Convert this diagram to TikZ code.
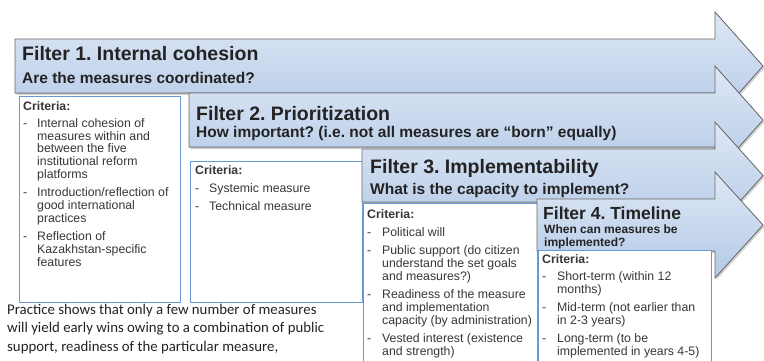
\documentclass[tikz,border=0pt]{standalone}
\usepackage{fontspec}
\setmainfont{Liberation Sans}
\newfontfamily\calibri{Carlito}
\usetikzlibrary{shadows}
\frenchspacing

\definecolor{arrowtop}{RGB}{222,232,245}
\definecolor{arrowbot}{RGB}{180,201,231}
\definecolor{arrowline}{RGB}{105,105,105}
\definecolor{boxline}{RGB}{105,152,210}
\definecolor{headtext}{RGB}{35,35,35}
\definecolor{listtext}{RGB}{55,55,55}

\begin{document}
\begin{tikzpicture}[x=1pt,y=-1pt]
    \tikzstyle{filter} = [draw=arrowline,line width=0.8pt,top color=arrowtop,bottom color=arrowbot,drop shadow={shadow xshift=1.5pt,shadow yshift=-2pt,opacity=0.35}]
    \tikzstyle{critbox} = [draw=boxline,fill=white,line width=0.7pt,anchor=north west,inner sep=0pt]
    \tikzstyle{title} = [anchor=base west,inner sep=0pt,text=headtext,font=\fontsize{19.5}{22}\selectfont\bfseries]
    \tikzstyle{question} = [anchor=base west,inner sep=0pt,text=headtext,font=\fontsize{15.5}{17}\selectfont\bfseries]
    \tikzstyle{list} = [anchor=base west,inner sep=0pt,text=listtext,font=\fontsize{12.3}{12.8}\selectfont]
    \clip (0,0) rectangle (764,360);
    % filter 1
    \filldraw [filter] (15,39) -- (715,39) -- (715,12) -- (763,66) -- (715,120) -- (715,93) -- (15,93) -- cycle;
    \node [title] (title1) at (22,60) {Filter 1. Internal cohesion};
    \node [question] (ask1) at (22,83) {Are the measures coordinated?};
    \node [critbox,minimum width=161pt,minimum height=206pt] (box1) at (19,96) {};
    \node [list] (crit1) at (23,110) {\begin{tabular}[t]{@{}p{14pt}@{}l@{}}
      \multicolumn{2}{@{}l@{}}{\bfseries Criteria:}\\[4.5pt]
      - & Internal cohesion of\\ & measures within and\\ & between the five\\ & institutional reform\\ & platforms\\[5.5pt]
      - & Introduction/reflection of\\ & good international\\ & practices\\[5.5pt]
      - & Reflection of\\ & Kazakhstan-specific\\ & features
    \end{tabular}};
    % filter 2
    \filldraw [filter] (189,93) -- (715,93) -- (715,66) -- (763,120) -- (715,174) -- (715,147) -- (189,147) -- cycle;
    \node [title] (title2) at (196,120) {Filter 2. Prioritization};
    \node [question] (ask2) at (196,137) {How important? (i.e. not all measures are “born” equally)};
    \node [critbox,minimum width=172pt,minimum height=141pt] (box2) at (190,161) {};
    \node [list] (crit2) at (195,174) {\begin{tabular}[t]{@{}p{14pt}@{}l@{}}
      \multicolumn{2}{@{}l@{}}{\bfseries Criteria:}\\[5.5pt]
      - & Systemic measure\\[5pt]
      - & Technical measure
    \end{tabular}};
    % filter 3
    \filldraw [filter] (362,149) -- (715,149) -- (715,122) -- (763,175.5) -- (715,229) -- (715,202) -- (362,202) -- cycle;
    \node [title] (title3) at (370,173) {Filter 3. Implementability};
    \node [question] (ask3) at (370,194) {What is the capacity to implement?};
    \node [critbox,minimum width=174pt,minimum height=170pt] (box3) at (363,203) {};
    \node [list] (crit3) at (367,218) {\begin{tabular}[t]{@{}p{15pt}@{}l@{}}
      \multicolumn{2}{@{}l@{}}{\bfseries Criteria:}\\[5.5pt]
      - & Political will\\[5.5pt]
      - & Public support (do citizen\\ & understand the set goals\\ & and measures?)\\[5.5pt]
      - & Readiness of the measure\\ & and implementation\\ & capacity (by administration)\\[5.5pt]
      - & Vested interest (existence\\ & and strength)
    \end{tabular}};
    % filter 4
    \filldraw [filter] (537,199) -- (715,199) -- (715,172) -- (763,225) -- (715,278) -- (715,251) -- (537,251) -- cycle;
    \node [title,font=\fontsize{17.5}{20}\selectfont\bfseries] (title4) at (543,219) {Filter 4. Timeline};
    \node [question,align=left,font=\fontsize{12}{13}\selectfont\bfseries] (ask4) at (544,246) {When can measures be\\implemented?};
    \node [critbox,minimum width=173pt,minimum height=130pt] (box4) at (538,250) {};
    \node [list] (crit4) at (542,263) {\begin{tabular}[t]{@{}p{15pt}@{}l@{}}
      \multicolumn{2}{@{}l@{}}{\bfseries Criteria:}\\[4.5pt]
      - & Short-term (within 12\\ & months)\\[5.5pt]
      - & Mid-term (not earlier than\\ & in 2-3 years)\\[5.5pt]
      - & Long-term (to be\\ & implemented in years 4-5)
    \end{tabular}};
    % note under the boxes
    \node [anchor=base west,inner sep=0pt,align=left,text=headtext,font=\calibri\fontsize{14.8}{18.5}\selectfont] (note) at (7,351) {Practice shows that only a few number of measures\\will yield early wins owing to a combination of public\\support, readiness of the particular measure,};
\end{tikzpicture}
\end{document}
